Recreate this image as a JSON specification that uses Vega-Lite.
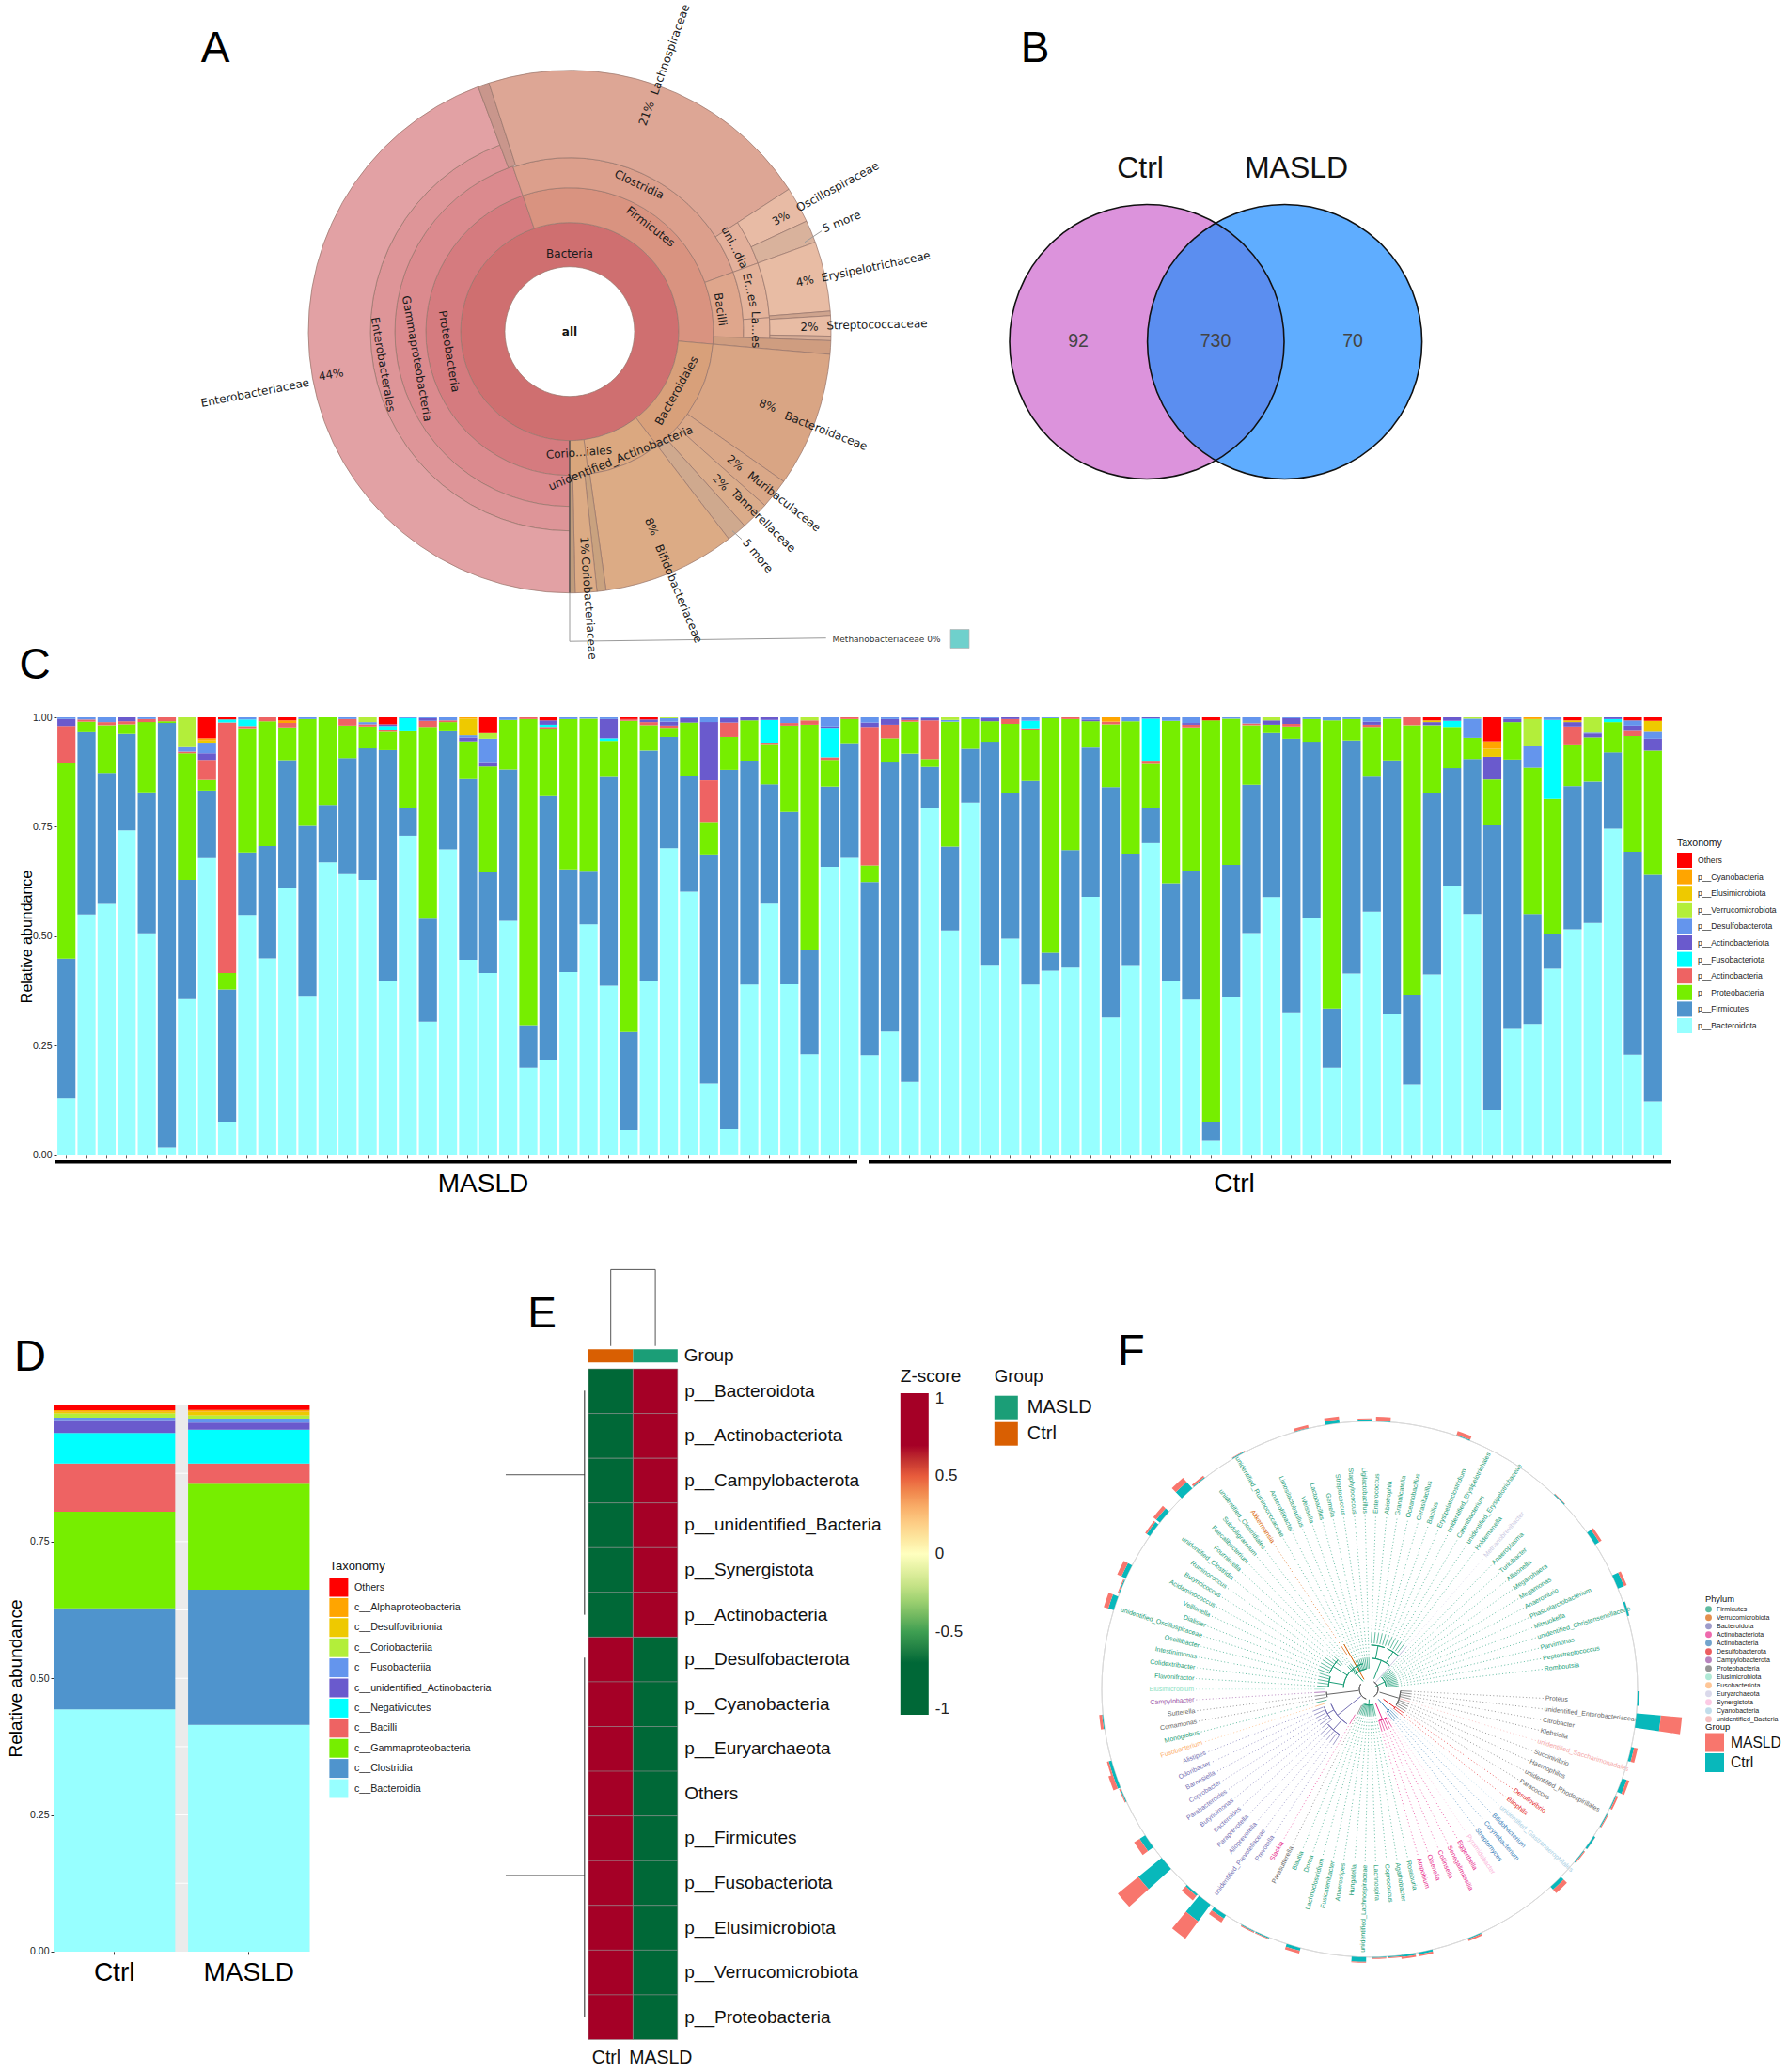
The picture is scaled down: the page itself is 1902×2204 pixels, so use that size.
{"$schema":"https://vega.github.io/schema/vega-lite/v6.json","padding":0,"background":"white","spacing":0,"bounds":"full","resolve":{"scale":{"color":"independent","fill":"independent","theta":"independent","radius":"independent"}},"config":{"font":"Liberation Sans","view":{"stroke":null}},
"vconcat":[
{"hconcat":[
{"width":1040,"height":757.5,"layer":[
{"data":{"values":[
{"n":"Bacteria","r0":69,"r1":116,"a0":0,"a1":360},
{"n":"Proteobacteria","r0":116,"r1":153,"a0":180,"a1":341},
{"n":"Firmicutes","r0":116,"r1":153,"a0":341,"a1":455},
{"n":"Bacteroidales","r0":116,"r1":153,"a0":95,"a1":142.5},
{"n":"unidentified_Actinobacteria","r0":116,"r1":153,"a0":142.5,"a1":172.5},
{"n":"Coriobacteriales","r0":116,"r1":153,"a0":172.5,"a1":180},
{"n":"Gammaproteobacteria","r0":153,"r1":186,"a0":180,"a1":341},
{"n":"Clostridia","r0":153,"r1":185,"a0":341,"a1":430},
{"n":"Bacilli","r0":153,"r1":185,"a0":70,"a1":94},
{"n":"Enterobacterales","r0":186,"r1":212,"a0":180,"a1":339.5},
{"n":"Enterobacteriaceae","r0":212,"r1":278,"a0":180,"a1":339.5},
{"n":"other1","r0":186,"r1":278,"a0":339.5,"a1":342},
{"n":"Lachnospiraceae","r0":185,"r1":278,"a0":342,"a1":417},
{"n":"unidentified_dia","r0":185,"r1":213,"a0":57,"a1":70},
{"n":"Oscillospiraceae","r0":213,"r1":278,"a0":57,"a1":65},
{"n":"other2","r0":213,"r1":278,"a0":65,"a1":70},
{"n":"Erysipelotrichales","r0":185,"r1":213,"a0":70,"a1":86},
{"n":"Erysipelotrichaceae","r0":213,"r1":278,"a0":70,"a1":85.5},
{"n":"Lactobacillales","r0":185,"r1":213,"a0":86,"a1":92},
{"n":"other2b","r0":213,"r1":278,"a0":85.5,"a1":86.5},
{"n":"Streptococcaceae","r0":213,"r1":278,"a0":86.5,"a1":91},
{"n":"other2c","r0":213,"r1":278,"a0":91,"a1":92},
{"n":"other3","r0":153,"r1":278,"a0":92,"a1":95},
{"n":"Bacteroidaceae","r0":153,"r1":278,"a0":95,"a1":125},
{"n":"Muribaculaceae","r0":153,"r1":278,"a0":125,"a1":131.7},
{"n":"Tannerellaceae","r0":153,"r1":278,"a0":131.7,"a1":138},
{"n":"other4","r0":153,"r1":278,"a0":138,"a1":142.5},
{"n":"Bifidobacteriaceae","r0":153,"r1":278,"a0":142.5,"a1":172},
{"n":"other5","r0":153,"r1":278,"a0":172,"a1":174},
{"n":"Coriobacteriaceae","r0":153,"r1":278,"a0":174,"a1":178.8},
{"n":"other6","r0":153,"r1":278,"a0":178.8,"a1":180}
]},
"mark":{"type":"arc","stroke":"#96746a","strokeWidth":0.7},
"encoding":{
"x":{"datum":0,"type":"quantitative","scale":{"domain":[-606,434]},"axis":null},
"y":{"datum":0,"type":"quantitative","scale":{"domain":[-404.8,352.7]},"axis":null},
"theta":{"field":"a0","type":"quantitative","stack":null,"scale":{"domain":[0,360],"range":[0,6.28319]}},
"theta2":{"field":"a1"},
"radius":{"field":"r0","type":"quantitative","scale":{"domain":[0,278],"range":[0,278]}},
"radius2":{"field":"r1"},
"color":{"field":"n","type":"nominal","legend":null,"scale":{
"domain":["Bacteria","Proteobacteria","Firmicutes","Bacteroidales","unidentified_Actinobacteria","Coriobacteriales","Gammaproteobacteria","Clostridia","Bacilli","Enterobacterales","Enterobacteriaceae","other1","Lachnospiraceae","unidentified_dia","Oscillospiraceae","other2","Erysipelotrichales","Erysipelotrichaceae","Lactobacillales","other2b","Streptococcaceae","other2c","other3","Bacteroidaceae","Muribaculaceae","Tannerellaceae","other4","Bifidobacteriaceae","other5","Coriobacteriaceae","other6"],
"range":["#cf6f70","#d57b7f","#d99380","#d8a07a","#dba880","#d9a67c","#db8a8e","#dc9f8c","#dfa68c","#de9598","#e2a1a4","#c9968c","#dda695","#e3b09b","#e8bba5","#d9b29c","#e4b39b","#e8bca4","#e4b39b","#cfa48e","#e8bca4","#d6ac96","#cf9d80","#d9a584","#daa888","#dbac8a","#cfa98e","#dcab85","#c9a27f","#dcab85","#c09c7c"]}}
}},
{"data":{"values":[
{"x":0,"y":-116,"x2":0,"y2":-278,"t":"in"}
]},"mark":{"type":"rule","color":"#4a4a4a","strokeWidth":1.2},
"encoding":{"x":{"field":"x","type":"quantitative","axis":null,"scale":{"domain":[-606,434]}},"y":{"field":"y","type":"quantitative","axis":null,"scale":{"domain":[-404.8,352.7]}},"x2":{"field":"x2"},"y2":{"field":"y2"}}},
{"data":{"values":[
{"x":0,"y":-278,"x2":0,"y2":-329.5},
{"x":0,"y":-329.5,"x2":272.7,"y2":-326},
{"x":250,"y":95,"x2":268,"y2":107},
{"x":173,"y":-212,"x2":183,"y2":-221}
]},"mark":{"type":"rule","color":"#9a9a9a","strokeWidth":1},
"encoding":{"x":{"field":"x","type":"quantitative","axis":null,"scale":{"domain":[-606,434]}},"y":{"field":"y","type":"quantitative","axis":null,"scale":{"domain":[-404.8,352.7]}},"x2":{"field":"x2"},"y2":{"field":"y2"}}},
{"data":{"values":[
{"t":"Bacteria","a":0,"r":82.6,"k":"tan"},
{"t":"Firmicutes","a":37.6,"r":141,"k":"tan"},
{"t":"Clostridia","a":25.3,"r":173,"k":"tan"},
{"t":"Bacilli","a":81.6,"r":162,"k":"tan"},
{"t":"uni...dia","a":63,"r":197,"k":"tan"},
{"t":"Er...es","a":77,"r":197,"k":"tan"},
{"t":"La...es","a":89.4,"r":198,"k":"tan"},
{"t":"Bacteroidales","a":118.9,"r":130,"k":"tan"},
{"t":"unidentified_Actinobacteria","a":158,"r":145,"k":"tan"},
{"t":"Corio...iales","a":175.6,"r":129,"k":"tan"},
{"t":"Proteobacteria","a":260.7,"r":130,"k":"tan"},
{"t":"Gammaproteobacteria","a":260,"r":165,"k":"tan"},
{"t":"Enterobacterales","a":260,"r":201.6,"k":"tan"},
{"t":"21%","a":19.4,"r":246,"k":"rad"},
{"t":"Lachnospiraceae","a":19.6,"r":318.5,"k":"rad"},
{"t":"3%","a":61.8,"r":255,"k":"rad"},
{"t":"Oscillospiraceae","a":61.6,"r":324,"k":"rad"},
{"t":"5 more","a":68,"r":312,"k":"rad"},
{"t":"4%","a":77.9,"r":256,"k":"rad"},
{"t":"Erysipelotrichaceae","a":78,"r":333,"k":"rad"},
{"t":"2%","a":88.9,"r":255,"k":"rad"},
{"t":"Streptococcaceae","a":88.7,"r":327,"k":"rad"},
{"t":"8%","a":110.5,"r":225,"k":"rad"},
{"t":"Bacteroidaceae","a":111.2,"r":292.5,"k":"rad"},
{"t":"2%","a":128.4,"r":225,"k":"rad"},
{"t":"Muribaculaceae","a":128.4,"r":291,"k":"rad"},
{"t":"2%","a":135,"r":227,"k":"rad"},
{"t":"Tannerellaceae","a":134.3,"r":288,"k":"rad"},
{"t":"5 more","a":140,"r":311.5,"k":"rad"},
{"t":"8%","a":157.2,"r":225,"k":"rad"},
{"t":"Bifidobacteriaceae","a":157.4,"r":302,"k":"rad"},
{"t":"1%","a":176,"r":228,"k":"rad"},
{"t":"Coriobacteriaceae","a":176,"r":295,"k":"rad"},
{"t":"44%","a":259.8,"r":258,"k":"rad"},
{"t":"Enterobacteriaceae","a":259,"r":341,"k":"rad"}
]},
"transform":[{"calculate":"datum.k=='rad' ? (datum.a<180 ? datum.a-90 : datum.a+90-360) : (datum.a>90 && datum.a<270 ? datum.a-180 : datum.a)","as":"rot"}],
"mark":{"type":"text","font":"DejaVu Sans","fontSize":12,"align":"center","baseline":"middle","color":"#1a1a1a"},
"encoding":{
"x":{"datum":0,"type":"quantitative","scale":{"domain":[-606,434]},"axis":null},
"y":{"datum":0,"type":"quantitative","scale":{"domain":[-404.8,352.7]},"axis":null},
"theta":{"field":"a","type":"quantitative","stack":null,"scale":{"domain":[0,360],"range":[0,6.28319]}},
"radius":{"field":"r","type":"quantitative","scale":{"domain":[0,278],"range":[0,278]}},
"angle":{"field":"rot","type":"quantitative","scale":null},
"text":{"field":"t"}}},
{"data":{"values":[{"x":337,"y":-326.8,"t":"Methanobacteriaceae  0%"}]},
"mark":{"type":"text","font":"DejaVu Sans","fontSize":9,"align":"center","baseline":"middle","color":"#333"},
"encoding":{"x":{"field":"x","type":"quantitative","scale":{"domain":[-606,434]},"axis":null},"y":{"field":"y","type":"quantitative","scale":{"domain":[-404.8,352.7]},"axis":null},"text":{"field":"t"}}},
{"data":{"values":[{"x":415,"y":-326.8}]},
"mark":{"type":"point","shape":"square","filled":true,"size":400,"color":"#6fd0cc","stroke":"#b5b5b5","strokeWidth":0.7,"opacity":1},
"encoding":{"x":{"field":"x","type":"quantitative","scale":{"domain":[-606,434]},"axis":null},"y":{"field":"y","type":"quantitative","scale":{"domain":[-404.8,352.7]},"axis":null}}},
{"data":{"values":[{"x":0,"y":0,"t":"all"}]},
"mark":{"type":"text","font":"DejaVu Sans","fontSize":12,"fontWeight":"bold","align":"center","baseline":"middle","color":"#111"},
"encoding":{"x":{"field":"x","type":"quantitative","scale":{"domain":[-606,434]},"axis":null},"y":{"field":"y","type":"quantitative","scale":{"domain":[-404.8,352.7]},"axis":null},"text":{"field":"t"}}},
{"data":{"values":[{"x":-377,"y":286.7,"t":"A"},{"x":-569,"y":-369,"t":"C"}]},
"mark":{"type":"text","fontSize":46,"align":"center","baseline":"alphabetic","color":"#000"},
"encoding":{"x":{"field":"x","type":"quantitative","scale":{"domain":[-606,434]},"axis":null},"y":{"field":"y","type":"quantitative","scale":{"domain":[-404.8,352.7]},"axis":null},"text":{"field":"t"}}}
]},
{"width":862,"height":757.5,"layer":[
{"data":{"values":[{"n":"Ctrl","x":181,"y":363.5},{"n":"MASLD","x":327.6,"y":363.5}]},
"mark":{"type":"point","filled":true,"opacity":1,"size":85264},
"encoding":{"x":{"field":"x","type":"quantitative","scale":{"domain":[1,863]},"axis":null},"y":{"field":"y","type":"quantitative","scale":{"domain":[757.5,0]},"axis":null},
"color":{"field":"n","type":"nominal","legend":null,"scale":{"domain":["Ctrl","MASLD"],"range":["#dc93dc","#5fadff"]}}}},
{"data":{"values":[
{"x":181.4,"y":363.5,"y2":363.5},{"x":184.4,"y":337,"y2":390},{"x":189.4,"y":317,"y2":410},{"x":194.4,"y":304.5,"y2":422.5},{"x":204.4,"y":285.2,"y2":441.8},{"x":214.4,"y":271.3,"y2":455.7},{"x":224.4,"y":260.2,"y2":466.8},{"x":234.4,"y":251.2,"y2":475.8},{"x":244.4,"y":243.7,"y2":483.3},{"x":254.4,"y":237.1,"y2":489.9},{"x":264.4,"y":243.7,"y2":483.3},{"x":274.4,"y":251.2,"y2":475.8},{"x":284.4,"y":260.2,"y2":466.8},{"x":294.4,"y":271.3,"y2":455.7},{"x":304.4,"y":285.2,"y2":441.8},{"x":314.4,"y":304.5,"y2":422.5},{"x":319.4,"y":317,"y2":410},{"x":324.4,"y":337,"y2":390},{"x":327.4,"y":363.5,"y2":363.5}
]},"mark":{"type":"area","color":"#5b8ef0","interpolate":"monotone","orient":"vertical"},
"encoding":{"x":{"field":"x","type":"quantitative","scale":{"domain":[1,863]},"axis":null},"y":{"field":"y","type":"quantitative","scale":{"domain":[757.5,0]},"axis":null},"y2":{"field":"y2"}}},
{"data":{"values":[{"n":"Ctrl","x":181,"y":363.5},{"n":"MASLD","x":327.6,"y":363.5}]},
"mark":{"type":"point","filled":false,"opacity":1,"size":85264,"stroke":"#111","strokeWidth":1.6},
"encoding":{"x":{"field":"x","type":"quantitative","scale":{"domain":[1,863]},"axis":null},"y":{"field":"y","type":"quantitative","scale":{"domain":[757.5,0]},"axis":null}}},
{"data":{"values":[{"x":108,"y":363,"t":"92"},{"x":254,"y":363,"t":"730"},{"x":400,"y":363,"t":"70"}]},
"mark":{"type":"text","fontSize":19.5,"align":"center","baseline":"middle","color":"#444"},
"encoding":{"x":{"field":"x","type":"quantitative","scale":{"domain":[1,863]},"axis":null},"y":{"field":"y","type":"quantitative","scale":{"domain":[757.5,0]},"axis":null},"text":{"field":"t"}}},
{"data":{"values":[{"x":174,"y":179,"t":"Ctrl"},{"x":340,"y":179,"t":"MASLD"}]},
"mark":{"type":"text","fontSize":32,"align":"center","baseline":"middle","color":"#111"},
"encoding":{"x":{"field":"x","type":"quantitative","scale":{"domain":[1,863]},"axis":null},"y":{"field":"y","type":"quantitative","scale":{"domain":[757.5,0]},"axis":null},"text":{"field":"t"}}},
{"data":{"values":[{"x":62,"y":66,"t":"B"}]},
"mark":{"type":"text","fontSize":46,"align":"center","baseline":"alphabetic","color":"#000"},
"encoding":{"x":{"field":"x","type":"quantitative","scale":{"domain":[1,863]},"axis":null},"y":{"field":"y","type":"quantitative","scale":{"domain":[757.5,0]},"axis":null},"text":{"field":"t"}}}
]}
],"spacing":0,"bounds":"flush","resolve":{"scale":{"color":"independent","fill":"independent","theta":"independent","radius":"independent"}}},

{"hconcat":[
{"width":60,"height":585.8,"data":{"values":[]},"mark":"point","encoding":{}},
{"width":1709,"height":465.9,"resolve":{"scale":{"x":"independent","y":"independent"}},"layer":[
{"data":{"values":[
{"s":"M1","B":0.130,"F":0.319,"P":0.446,"A":0.085,"T":0.016,"D":0.004},
{"s":"M2","B":0.550,"F":0.416,"P":0.024,"A":0.005,"D":0.005},
{"s":"M3","B":0.574,"F":0.299,"P":0.109,"A":0.007,"D":0.011},
{"s":"M4","B":0.742,"F":0.220,"P":0.022,"A":0.007,"T":0.009},
{"s":"M5","B":0.507,"F":0.322,"P":0.160,"A":0.007,"D":0.004},
{"s":"M6","B":0.018,"F":0.968,"P":0.004,"A":0.009},
{"s":"M7","B":0.355,"F":0.271,"P":0.288,"A":0.004,"D":0.010,"V":0.068},
{"s":"M8","B":0.678,"F":0.154,"P":0.024,"A":0.046,"T":0.015,"D":0.024,"E":0.005,"C":0.005,"O":0.048},
{"s":"M9","B":0.076,"F":0.302,"P":0.038,"A":0.571,"U":0.007,"O":0.005},
{"s":"M10","B":0.548,"F":0.143,"P":0.283,"A":0.005,"U":0.015,"D":0.005},
{"s":"M11","B":0.449,"F":0.256,"P":0.285,"A":0.009},
{"s":"M12","B":0.610,"F":0.293,"P":0.075,"A":0.010,"C":0.006,"O":0.007},
{"s":"M13","B":0.364,"F":0.388,"P":0.244,"D":0.004},
{"s":"M14","B":0.668,"F":0.131,"P":0.200},
{"s":"M15","B":0.642,"F":0.265,"P":0.074,"A":0.015,"D":0.004},
{"s":"M16","B":0.628,"F":0.300,"P":0.050,"A":0.005,"D":0.005,"V":0.011},
{"s":"M17","B":0.398,"F":0.527,"P":0.042,"A":0.003,"U":0.010,"T":0.004,"O":0.016},
{"s":"M18","B":0.729,"F":0.064,"P":0.174,"U":0.030,"D":0.002},
{"s":"M19","B":0.305,"F":0.235,"P":0.438,"A":0.014,"T":0.006,"D":0.002},
{"s":"M20","B":0.699,"F":0.270,"P":0.021,"A":0.004,"D":0.007},
{"s":"M21","B":0.446,"F":0.412,"P":0.086,"T":0.009,"D":0.005,"E":0.038,"C":0.003},
{"s":"M22","B":0.416,"F":0.229,"P":0.242,"T":0.008,"D":0.055,"V":0.013,"O":0.036},
{"s":"M23","B":0.534,"F":0.345,"P":0.113,"D":0.006},
{"s":"M24","B":0.200,"F":0.097,"P":0.699,"A":0.004},
{"s":"M25","B":0.217,"F":0.603,"P":0.154,"A":0.004,"U":0.005,"T":0.010,"O":0.007},
{"s":"M26","B":0.418,"F":0.234,"P":0.343,"D":0.004},
{"s":"M27","B":0.528,"F":0.120,"P":0.350,"D":0.003},
{"s":"M28","B":0.387,"F":0.478,"P":0.080,"U":0.006,"T":0.044,"D":0.004},
{"s":"M29","B":0.058,"F":0.224,"P":0.711,"A":0.004,"O":0.004},
{"s":"M30","B":0.398,"F":0.526,"P":0.058,"A":0.007,"T":0.006,"O":0.005},
{"s":"M31","B":0.701,"F":0.254,"P":0.021,"A":0.005,"T":0.009,"D":0.008,"V":0.002},
{"s":"M32","B":0.602,"F":0.265,"P":0.121,"T":0.010,"D":0.002},
{"s":"M33","B":0.164,"F":0.523,"P":0.074,"A":0.095,"T":0.133,"D":0.011},
{"s":"M34","B":0.060,"F":0.820,"P":0.075,"A":0.033,"T":0.010,"D":0.002},
{"s":"M35","B":0.389,"F":0.510,"P":0.092,"T":0.007},
{"s":"M36","B":0.574,"F":0.272,"P":0.092,"A":0.003,"U":0.052,"T":0.006},
{"s":"M37","B":0.390,"F":0.393,"P":0.197,"A":0.006,"D":0.013},
{"s":"M38","B":0.231,"F":0.239,"P":0.513,"A":0.010,"V":0.007},
{"s":"M39","B":0.658,"F":0.183,"P":0.061,"A":0.006,"U":0.067,"T":0.003,"D":0.021},
{"s":"M40","B":0.678,"F":0.261,"P":0.055,"A":0.004},
{"s":"C1","B":0.229,"F":0.395,"P":0.038,"A":0.316,"T":0.010,"D":0.012},
{"s":"C2","B":0.282,"F":0.613,"P":0.055,"A":0.031,"T":0.013,"D":0.004},
{"s":"C3","B":0.168,"F":0.750,"P":0.073,"A":0.004,"T":0.004,"D":0.002},
{"s":"C4","B":0.791,"F":0.095,"P":0.018,"A":0.088,"T":0.005,"D":0.002},
{"s":"C5","B":0.513,"F":0.191,"P":0.285,"D":0.004,"V":0.006},
{"s":"C6","B":0.805,"F":0.123,"P":0.068,"D":0.004},
{"s":"C7","B":0.433,"F":0.511,"P":0.047,"T":0.007,"D":0.002},
{"s":"C8","B":0.494,"F":0.333,"P":0.157,"A":0.011,"T":0.004},
{"s":"C9","B":0.389,"F":0.464,"P":0.116,"A":0.004,"U":0.017,"D":0.008},
{"s":"C10","B":0.421,"F":0.041,"P":0.535,"D":0.002},
{"s":"C11","B":0.428,"F":0.268,"P":0.299,"A":0.004},
{"s":"C12","B":0.590,"F":0.341,"P":0.060,"T":0.004,"D":0.005},
{"s":"C13","B":0.314,"F":0.525,"P":0.143,"A":0.006,"C":0.010},
{"s":"C14","B":0.432,"F":0.256,"P":0.302,"D":0.009},
{"s":"C15","B":0.712,"F":0.079,"P":0.102,"A":0.005,"U":0.098,"T":0.003},
{"s":"C16","B":0.396,"F":0.224,"P":0.370,"D":0.008},
{"s":"C17","B":0.355,"F":0.294,"P":0.327,"A":0.006,"T":0.004,"D":0.013},
{"s":"C18","B":0.033,"F":0.044,"P":0.916,"O":0.007},
{"s":"C19","B":0.361,"F":0.302,"P":0.334,"D":0.003},
{"s":"C20","B":0.507,"F":0.338,"P":0.136,"A":0.004,"D":0.014},
{"s":"C21","B":0.590,"F":0.375,"P":0.019,"T":0.010,"V":0.007},
{"s":"C22","B":0.324,"F":0.626,"P":0.028,"A":0.006,"T":0.013,"D":0.002},
{"s":"C23","B":0.542,"F":0.401,"P":0.052,"D":0.004},
{"s":"C24","B":0.200,"F":0.135,"P":0.657,"D":0.007},
{"s":"C25","B":0.415,"F":0.532,"P":0.049,"D":0.004},
{"s":"C26","B":0.557,"F":0.310,"P":0.112,"A":0.005,"T":0.007,"D":0.010},
{"s":"C27","B":0.322,"F":0.580,"P":0.095,"D":0.003},
{"s":"C28","B":0.162,"F":0.205,"P":0.615,"A":0.018},
{"s":"C29","B":0.413,"F":0.413,"P":0.156,"T":0.007,"E":0.004,"O":0.007},
{"s":"C30","B":0.615,"F":0.268,"P":0.094,"U":0.014,"T":0.008},
{"s":"C31","B":0.551,"F":0.354,"P":0.048,"D":0.044,"V":0.003},
{"s":"C32","B":0.103,"F":0.650,"P":0.105,"T":0.052,"E":0.018,"C":0.017,"O":0.055},
{"s":"C33","B":0.288,"F":0.614,"P":0.085,"T":0.007,"D":0.004},
{"s":"C34","B":0.300,"F":0.251,"P":0.334,"D":0.050,"V":0.061,"C":0.004},
{"s":"C35","B":0.426,"F":0.080,"P":0.308,"U":0.180,"D":0.006},
{"s":"C36","B":0.516,"F":0.327,"P":0.095,"A":0.041,"T":0.010,"E":0.004,"O":0.007},
{"s":"C37","B":0.531,"F":0.323,"P":0.101,"T":0.009,"D":0.002,"V":0.035},
{"s":"C38","B":0.744,"F":0.174,"P":0.069,"U":0.007,"T":0.004},
{"s":"C39","B":0.230,"F":0.464,"P":0.264,"A":0.012,"T":0.012,"D":0.012,"O":0.007},
{"s":"C40","B":0.123,"F":0.517,"P":0.283,"T":0.027,"D":0.016,"E":0.025,"O":0.008}
]},
"transform":[{"fold":["B","F","P","A","U","T","D","V","E","C","O"],"as":["k","v"]},{"filter":"datum.v>0"},
{"calculate":"indexof(['B','F','P','A','U','T','D','V','E','C','O'],datum.k)","as":"ord"},
{"calculate":"{B:'p__Bacteroidota',F:'p__Firmicutes',P:'p__Proteobacteria',A:'p__Actinobacteria',U:'p__Fusobacteriota',T:'p__Actinobacteriota',D:'p__Desulfobacterota',V:'p__Verrucomicrobiota',E:'p__Elusimicrobiota',C:'p__Cyanobacteria',O:'Others'}[datum.k]","as":"tax"}],
"mark":{"type":"bar"},
"encoding":{
"x":{"field":"s","type":"nominal","sort":null,"scale":{"paddingInner":0.1,"paddingOuter":0.05},"axis":{"title":null,"labels":false,"domain":false,"ticks":true,"tickSize":3,"tickColor":"#333","tickWidth":0.8}},
"y":{"field":"v","type":"quantitative","stack":"normalize","scale":{"domain":[0,1]},"axis":{"title":"Relative abundance","titleFontSize":16,"titleFontWeight":"normal","titleColor":"#000","titlePadding":-2,"values":[0,0.25,0.5,0.75,1],"labelExpr":"format(datum.value,'.2f')","labelFontSize":10.5,"labelColor":"#222","domain":false,"grid":false,"tickSize":3,"tickColor":"#333"}},
"order":{"field":"ord","type":"quantitative"},
"color":{"field":"tax","type":"nominal","scale":{"domain":["Others","p__Cyanobacteria","p__Elusimicrobiota","p__Verrucomicrobiota","p__Desulfobacterota","p__Actinobacteriota","p__Fusobacteriota","p__Actinobacteria","p__Proteobacteria","p__Firmicutes","p__Bacteroidota"],"range":["#ff0000","#ffa500","#eec900","#b3ee3a","#6495ed","#6a5acd","#00ffff","#ee6363","#76ee00","#4f94cd","#97ffff"]},
"legend":{"orient":"none","legendX":1724,"legendY":128.5,"title":"Taxonomy","titleFontSize":10.5,"titleFontWeight":"normal","titleColor":"#111","titlePadding":5,"labelFontSize":8.6,"labelColor":"#222","symbolType":"square","symbolSize":256,"symbolStrokeWidth":0,"rowPadding":1.6,"labelOffset":6}}
}},
{"data":{"values":[{"x":-1.2,"x2":852,"y":-0.0148},{"x":864,"x2":1718,"y":-0.0148}]},
"mark":{"type":"rule","color":"#000","strokeWidth":3.5},
"encoding":{"x":{"field":"x","type":"quantitative","scale":{"domain":[0,1709]},"axis":null},"x2":{"field":"x2"},"y":{"field":"y","type":"quantitative","scale":{"domain":[0,1]},"axis":null}}},
{"data":{"values":[{"x":454,"y":-0.066,"t":"MASLD"},{"x":1253,"y":-0.066,"t":"Ctrl"}]},
"mark":{"type":"text","fontSize":28,"align":"center","baseline":"middle","color":"#000"},
"encoding":{"x":{"field":"x","type":"quantitative","scale":{"domain":[0,1709]},"axis":null},"y":{"field":"y","type":"quantitative","scale":{"domain":[0,1]},"axis":null},"text":{"field":"t"}}}
]}
],"spacing":0,"bounds":"flush","resolve":{"scale":{"color":"independent","fill":"independent","theta":"independent","radius":"independent"}}},

{"hconcat":[
{"width":56.6,"height":1,"data":{"values":[]},"mark":"point","encoding":{}},
{"width":272.4,"height":619.9,"resolve":{"scale":{"x":"independent","y":"independent"}},
"title":{"text":"D","fontSize":47,"fontWeight":"normal","anchor":"start","frame":"group","dx":-42,"dy":16,"color":"#000"},
"layer":[
{"data":{"values":[{"x":0,"x2":1,"y":0,"y2":1}]},"mark":{"type":"rect","color":"#ebebeb"},
"encoding":{"x":{"field":"x","type":"quantitative","scale":{"domain":[0,1]},"axis":null},"x2":{"field":"x2"},"y":{"field":"y","type":"quantitative","scale":{"domain":[0,1.0663]},"axis":null},"y2":{"field":"y2"}}},
{"data":{"values":[{"y":0.125},{"y":0.25},{"y":0.375},{"y":0.5},{"y":0.625},{"y":0.75},{"y":0.875}]},"mark":{"type":"rule","color":"#fff","strokeWidth":1},
"encoding":{"y":{"field":"y","type":"quantitative","scale":{"domain":[0,1.0663]},"axis":null}}},
{"data":{"values":[
{"g":"Ctrl","t":"c__Bacteroidia","v":0.443},{"g":"Ctrl","t":"c__Clostridia","v":0.185},{"g":"Ctrl","t":"c__Gammaproteobacteria","v":0.177},{"g":"Ctrl","t":"c__Bacilli","v":0.088},{"g":"Ctrl","t":"c__Negativicutes","v":0.056},{"g":"Ctrl","t":"c__unidentified_Actinobacteria","v":0.0235},{"g":"Ctrl","t":"c__Fusobacteriia","v":0.0045},{"g":"Ctrl","t":"c__Coriobacteriia","v":0.0075},{"g":"Ctrl","t":"c__Desulfovibrionia","v":0.003},{"g":"Ctrl","t":"c__Alphaproteobacteria","v":0.003},{"g":"Ctrl","t":"Others","v":0.0095},
{"g":"MASLD","t":"c__Bacteroidia","v":0.415},{"g":"MASLD","t":"c__Clostridia","v":0.247},{"g":"MASLD","t":"c__Gammaproteobacteria","v":0.194},{"g":"MASLD","t":"c__Bacilli","v":0.037},{"g":"MASLD","t":"c__Negativicutes","v":0.062},{"g":"MASLD","t":"c__unidentified_Actinobacteria","v":0.013},{"g":"MASLD","t":"c__Fusobacteriia","v":0.007},{"g":"MASLD","t":"c__Coriobacteriia","v":0.006},{"g":"MASLD","t":"c__Desulfovibrionia","v":0.007},{"g":"MASLD","t":"c__Alphaproteobacteria","v":0.003},{"g":"MASLD","t":"Others","v":0.009}
]},
"transform":[{"calculate":"indexof(['c__Bacteroidia','c__Clostridia','c__Gammaproteobacteria','c__Bacilli','c__Negativicutes','c__unidentified_Actinobacteria','c__Fusobacteriia','c__Coriobacteriia','c__Desulfovibrionia','c__Alphaproteobacteria','Others'],datum.t)","as":"ord"}],
"mark":{"type":"bar"},
"encoding":{
"x":{"field":"g","type":"nominal","sort":null,"scale":{"domain":["Ctrl","MASLD"],"paddingInner":0.096,"paddingOuter":0},"axis":{"title":null,"labelAngle":0,"labelFontSize":28,"labelColor":"#000","domain":false,"tickSize":3,"tickColor":"#333","labelPadding":6}},
"y":{"field":"v","type":"quantitative","stack":"zero","scale":{"domain":[0,1.0663]},"axis":{"title":"Relative abundance","titleFontSize":19,"titleFontWeight":"normal","titleColor":"#000","titlePadding":5,"titleY":329,"values":[0,0.25,0.5,0.75],"format":".2f","labelFontSize":10.5,"labelColor":"#222","domain":false,"grid":false,"tickSize":3,"tickColor":"#333"}},
"order":{"field":"ord","type":"quantitative"},
"color":{"field":"t","type":"nominal","scale":{"domain":["Others","c__Alphaproteobacteria","c__Desulfovibrionia","c__Coriobacteriia","c__Fusobacteriia","c__unidentified_Actinobacteria","c__Negativicutes","c__Bacilli","c__Gammaproteobacteria","c__Clostridia","c__Bacteroidia"],"range":["#ff0000","#ffa500","#eec900","#b3ee3a","#6495ed","#6a5acd","#00ffff","#ee6363","#76ee00","#4f94cd","#97ffff"]},
"legend":{"orient":"none","legendX":293.4,"legendY":203.5,"title":"Taxonomy","titleFontSize":13,"titleFontWeight":"normal","titleColor":"#111","titlePadding":6,"labelFontSize":10.7,"labelColor":"#222","symbolType":"square","symbolSize":400,"symbolStrokeWidth":0,"rowPadding":1.4,"labelOffset":6.5,"labelLimit":300}}
}}
]},
{"width":295.8,"height":1,"data":{"values":[]},"mark":"point","encoding":{}},
{"width":94.8,"height":713.5,"resolve":{"scale":{"x":"independent","y":"independent"}},"layer":[
{"data":{"values":[
{"g":"Ctrl","t":"p__Bacteroidota","z":-1},{"g":"MASLD","t":"p__Bacteroidota","z":1},
{"g":"Ctrl","t":"p__Actinobacteriota","z":-1},{"g":"MASLD","t":"p__Actinobacteriota","z":1},
{"g":"Ctrl","t":"p__Campylobacterota","z":-1},{"g":"MASLD","t":"p__Campylobacterota","z":1},
{"g":"Ctrl","t":"p__unidentified_Bacteria","z":-1},{"g":"MASLD","t":"p__unidentified_Bacteria","z":1},
{"g":"Ctrl","t":"p__Synergistota","z":-1},{"g":"MASLD","t":"p__Synergistota","z":1},
{"g":"Ctrl","t":"p__Actinobacteria","z":-1},{"g":"MASLD","t":"p__Actinobacteria","z":1},
{"g":"Ctrl","t":"p__Desulfobacterota","z":1},{"g":"MASLD","t":"p__Desulfobacterota","z":-1},
{"g":"Ctrl","t":"p__Cyanobacteria","z":1},{"g":"MASLD","t":"p__Cyanobacteria","z":-1},
{"g":"Ctrl","t":"p__Euryarchaeota","z":1},{"g":"MASLD","t":"p__Euryarchaeota","z":-1},
{"g":"Ctrl","t":"Others","z":1},{"g":"MASLD","t":"Others","z":-1},
{"g":"Ctrl","t":"p__Firmicutes","z":1},{"g":"MASLD","t":"p__Firmicutes","z":-1},
{"g":"Ctrl","t":"p__Fusobacteriota","z":1},{"g":"MASLD","t":"p__Fusobacteriota","z":-1},
{"g":"Ctrl","t":"p__Elusimicrobiota","z":1},{"g":"MASLD","t":"p__Elusimicrobiota","z":-1},
{"g":"Ctrl","t":"p__Verrucomicrobiota","z":1},{"g":"MASLD","t":"p__Verrucomicrobiota","z":-1},
{"g":"Ctrl","t":"p__Proteobacteria","z":1},{"g":"MASLD","t":"p__Proteobacteria","z":-1}
]},
"mark":{"type":"rect","stroke":"#8f8f8f","strokeWidth":0.5},
"encoding":{
"x":{"field":"g","type":"nominal","sort":null,"scale":{"domain":["Ctrl","MASLD"],"padding":0},"axis":null},
"y":{"field":"t","type":"nominal","sort":null,"scale":{"padding":0},"axis":{"orient":"right","title":null,"labelFontSize":19,"labelColor":"#111","labelPadding":7,"ticks":false,"domain":false,"labelLimit":400}},
"fill":{"field":"z","type":"quantitative","scale":{"domain":[-1.035,-0.7,-0.5,-0.25,0,0.25,0.5,0.68,1.035],"range":["#006837","#006837","#3f9f52","#b5dd7a","#ffffbf","#fdc07a","#e85c3c","#a50026","#a50026"]},
"legend":{"orient":"none","legendX":331.8,"legendY":-1,"title":"Z-score","titleFontSize":19,"titleFontWeight":"normal","titleColor":"#111","titlePadding":8,"gradientLength":342,"gradientThickness":30,"gradientStrokeWidth":0,"values":[-1,-0.5,0,0.5,1],"labelExpr":"''+datum.value","labelFontSize":17,"labelColor":"#222","labelOffset":7}}
}},
{"data":{"values":[{"g":"Ctrl","x":0,"x2":1,"y":-0.437,"y2":-0.14},{"g":"MASLD","x":1,"x2":2,"y":-0.437,"y2":-0.14}]},
"mark":{"type":"rect"},
"encoding":{"x":{"field":"x","type":"quantitative","scale":{"domain":[0,2]},"axis":null},"x2":{"field":"x2"},"y":{"field":"y","type":"quantitative","scale":{"domain":[15,0]},"axis":null},"y2":{"field":"y2"},
"color":{"field":"g","type":"nominal","scale":{"domain":["MASLD","Ctrl"],"range":["#1b9e77","#d95f02"]},
"legend":{"orient":"none","legendX":431.8,"legendY":-1,"title":"Group","titleFontSize":18.7,"titleFontWeight":"normal","titleColor":"#111","titlePadding":11,"labelFontSize":20,"labelColor":"#111","symbolType":"square","symbolSize":625,"symbolStrokeWidth":0,"rowPadding":3,"labelOffset":10}}}},
{"data":{"values":[
{"x":0.5,"x2":0.5,"y":-0.51,"y2":-2.22},{"x":1.5,"x2":1.5,"y":-0.51,"y2":-2.22},{"x":0.5,"x2":1.5,"y":-2.22,"y2":-2.22},
{"x":-1.857,"x2":-0.088,"y":2.37,"y2":2.37},{"x":-1.857,"x2":-0.088,"y":11.33,"y2":11.33}
]},"mark":{"type":"rule","color":"#555","strokeWidth":1},
"encoding":{"x":{"field":"x","type":"quantitative","scale":{"domain":[0,2]},"axis":null},"x2":{"field":"x2"},"y":{"field":"y","type":"quantitative","scale":{"domain":[15,0]},"axis":null},"y2":{"field":"y2"}}},
{"data":{"values":[{"x":-0.088,"x2":-0.088,"y":0.49,"y2":5.5},{"x":-0.088,"x2":-0.088,"y":6.46,"y2":14.5}]},"mark":{"type":"rule","color":"#222","strokeWidth":1},
"encoding":{"x":{"field":"x","type":"quantitative","scale":{"domain":[0,2]},"axis":null},"x2":{"field":"x2"},"y":{"field":"y","type":"quantitative","scale":{"domain":[15,0]},"axis":null},"y2":{"field":"y2"}}},
{"data":{"values":[
{"x":7.0,"x2":7.116,"y":0.673},{"x":7.517,"x2":7.633,"y":0.673},{"x":7.0,"x2":7.116,"y":2.405},{"x":7.517,"x2":7.633,"y":2.405},{"x":7.0,"x2":7.116,"y":4.15},{"x":7.517,"x2":7.633,"y":4.15},{"x":7.0,"x2":7.116,"y":5.88},{"x":7.517,"x2":7.633,"y":5.88},{"x":7.0,"x2":7.116,"y":7.615},{"x":7.517,"x2":7.633,"y":7.615}
]},"mark":{"type":"rule","color":"#fff","strokeWidth":1.3,"zindex":1},
"encoding":{"x":{"field":"x","type":"quantitative","scale":{"domain":[0,2]},"axis":null},"x2":{"field":"x2"},"y":{"field":"y","type":"quantitative","scale":{"domain":[15,0]},"axis":null}}},
{"data":{"values":[{"x":2.148,"y":-0.288,"t":"Group"}]},"mark":{"type":"text","fontSize":19,"align":"left","baseline":"middle","color":"#111"},
"encoding":{"x":{"field":"x","type":"quantitative","scale":{"domain":[0,2]},"axis":null},"y":{"field":"y","type":"quantitative","scale":{"domain":[15,0]},"axis":null},"text":{"field":"t"}}},
{"data":{"values":[{"x":0.4,"y":15.42,"t":"Ctrl"},{"x":1.62,"y":15.42,"t":"MASLD"}]},"mark":{"type":"text","fontSize":19.5,"align":"center","baseline":"middle","color":"#111"},
"encoding":{"x":{"field":"x","type":"quantitative","scale":{"domain":[0,2]},"axis":null},"y":{"field":"y","type":"quantitative","scale":{"domain":[15,0]},"axis":null},"text":{"field":"t"}}},
{"data":{"values":[{"x":-1.04,"y":-0.927,"t":"E"}]},"mark":{"type":"text","fontSize":46,"align":"center","baseline":"alphabetic","color":"#000"},
"encoding":{"x":{"field":"x","type":"quantitative","scale":{"domain":[0,2]},"axis":null},"y":{"field":"y","type":"quantitative","scale":{"domain":[15,0]},"axis":null},"text":{"field":"t"}}}
]},
{"width":420,"height":1,"data":{"values":[]},"mark":"point","encoding":{}},
{"width":662,"height":700,
"layer":[
{"data":{"name":"taxa"},
"mark":{"type":"point","filled":true,"size":0},
"encoding":{"x":{"datum":0,"type":"quantitative","scale":{"domain":[-316,346]},"axis":null},"y":{"datum":0,"type":"quantitative","scale":{"domain":[-359.2,340.8]},"axis":null},
"color":{"field":"p","type":"nominal","scale":{"domain":["Firmicutes","Verrucomicrobiota","Bacteroidota","Actinobacteriota","Actinobacteria","Desulfobacterota","Campylobacterota","Proteobacteria","Elusimicrobiota","Fusobacteriota","Euryarchaeota","Synergistota","Cyanobacteria","unidentified_Bacteria"],"range":["#1b9e77","#d95f02","#7570b3","#e7298a","#377eb8","#e41a1c","#984ea3","#666666","#8ddfc4","#fdae6b","#cbc9e2","#fbb4d9","#a6cee3","#f4a6a6"]},
"legend":{"orient":"none","legendX":673,"legendY":241,"title":"Phylum","titleFontSize":9.3,"titleFontWeight":"normal","titleColor":"#111","titlePadding":2,"labelFontSize":7,"labelColor":"#222","symbolType":"circle","symbolSize":48,"symbolStrokeWidth":0,"rowPadding":1,"labelOffset":5}}}},
{"data":{"name":"taxa"},
"transform":[{"calculate":"datum.a*PI/180","as":"t"},{"calculate":"datum.r0*sin(datum.t)","as":"x"},{"calculate":"datum.r0*cos(datum.t)","as":"y"},{"calculate":"185*sin(datum.t)","as":"x2"},{"calculate":"185*cos(datum.t)","as":"y2"}],
"mark":{"type":"rule","strokeDash":[1,2.5],"strokeWidth":0.9,"opacity":0.75},
"encoding":{"x":{"field":"x","type":"quantitative","scale":{"domain":[-316,346]},"axis":null},"x2":{"field":"x2"},"y":{"field":"y","type":"quantitative","scale":{"domain":[-359.2,340.8]},"axis":null},"y2":{"field":"y2"},
"color":{"field":"p","type":"nominal","legend":null}}},
{"data":{"name":"taxa"},
"transform":[{"calculate":"datum.a*PI/180","as":"t"},{"calculate":"(datum.r0-11)*sin(datum.t)","as":"x"},{"calculate":"(datum.r0-11)*cos(datum.t)","as":"y"},{"calculate":"datum.r0*sin(datum.t)","as":"x2"},{"calculate":"datum.r0*cos(datum.t)","as":"y2"}],
"mark":{"type":"rule","strokeWidth":0.7},
"encoding":{"x":{"field":"x","type":"quantitative","scale":{"domain":[-316,346]},"axis":null},"x2":{"field":"x2"},"y":{"field":"y","type":"quantitative","scale":{"domain":[-359.2,340.8]},"axis":null},"y2":{"field":"y2"},
"color":{"field":"p","type":"nominal","legend":null}}},
{"data":{"values":[
{"a":107,"r0":33,"r1":11,"p":"Proteobacteria"},{"a":126,"r0":33,"r1":18,"p":"Desulfobacterota"},{"a":139,"r0":30,"r1":14,"p":"Actinobacteria"},{"a":157,"r0":35,"r1":16,"p":"Actinobacteriota"},{"a":183,"r0":17,"r1":11,"p":"Firmicutes"},{"a":231,"r0":44,"r1":12,"p":"Bacteroidota"},{"a":222,"r0":44,"r1":58,"p":"Bacteroidota"},{"a":240,"r0":44,"r1":52,"p":"Bacteroidota"},{"a":263,"r0":46,"r1":12,"p":"Proteobacteria"},{"a":280,"r0":44,"r1":28,"p":"Firmicutes"},{"a":302,"r0":46,"r1":28,"p":"Firmicutes"},{"a":333,"r0":28,"r1":22,"p":"Firmicutes"},{"a":320,"r0":28,"r1":11,"p":"Firmicutes"},{"a":11,"r0":47,"r1":33,"p":"Firmicutes"},{"a":32,"r0":47,"r1":33,"p":"Firmicutes"},{"a":22,"r0":33,"r1":12,"p":"Firmicutes"},{"a":64,"r0":18,"r1":7,"p":"Firmicutes"},{"a":330.2,"r0":12,"r1":55,"p":"Verrucomicrobiota"},{"a":41,"r0":8,"r1":60,"p":"Euryarchaeota"}
]},
"transform":[{"calculate":"datum.a*PI/180","as":"t"},{"calculate":"datum.r0*sin(datum.t)","as":"x"},{"calculate":"datum.r0*cos(datum.t)","as":"y"},{"calculate":"datum.r1*sin(datum.t)","as":"x2"},{"calculate":"datum.r1*cos(datum.t)","as":"y2"}],
"mark":{"type":"rule","strokeWidth":1},
"encoding":{"x":{"field":"x","type":"quantitative","scale":{"domain":[-316,346]},"axis":null},"x2":{"field":"x2"},"y":{"field":"y","type":"quantitative","scale":{"domain":[-359.2,340.8]},"axis":null},"y2":{"field":"y2"},
"color":{"field":"p","type":"nominal","legend":null}}},
{"data":{"values":[
{"a0":93,"a1":121,"r":33,"p":"Proteobacteria"},{"a0":124.9,"a1":128.4,"r":33,"p":"Desulfobacterota"},{"a0":135.5,"a1":142.6,"r":30,"p":"Actinobacteria"},{"a0":149.6,"a1":163.8,"r":35,"p":"Actinobacteriota"},{"a0":167.3,"a1":199,"r":17,"p":"Firmicutes"},{"a0":213.4,"a1":249,"r":44,"p":"Bacteroidota"},{"a0":213.4,"a1":230,"r":58,"p":"Bacteroidota"},{"a0":231,"a1":248.8,"r":52,"p":"Bacteroidota"},{"a0":259.4,"a1":266.5,"r":46,"p":"Proteobacteria"},{"a0":273.5,"a1":287.7,"r":44,"p":"Firmicutes"},{"a0":291.2,"a1":312.5,"r":46,"p":"Firmicutes"},{"a0":316,"a1":351,"r":22,"p":"Firmicutes"},{"a0":273,"a1":345,"r":28,"p":"Firmicutes"},{"a0":2,"a1":19.7,"r":47,"p":"Firmicutes"},{"a0":23.3,"a1":41,"r":47,"p":"Firmicutes"},{"a0":5,"a1":40,"r":33,"p":"Firmicutes"},{"a0":44.5,"a1":83.4,"r":18,"p":"Firmicutes"},{"a0":30,"a1":150,"r":9,"p":"Proteobacteria"},{"a0":200,"a1":300,"r":11,"p":"Proteobacteria"}
]},
"mark":{"type":"arc","filled":false,"strokeWidth":1},
"encoding":{"x":{"datum":0,"type":"quantitative","scale":{"domain":[-316,346]},"axis":null},"y":{"datum":0,"type":"quantitative","scale":{"domain":[-359.2,340.8]},"axis":null},
"theta":{"field":"a0","type":"quantitative","stack":null,"scale":{"domain":[0,360],"range":[0,6.28319]}},"theta2":{"field":"a1"},
"radius":{"field":"r","type":"quantitative","scale":{"domain":[0,400],"range":[0,400]}},"radius2":{"field":"r"},
"color":{"field":"p","type":"nominal","legend":null}}},
{"data":{"name":"taxa"},"transform":[{"filter":"datum.a<180"},{"calculate":"datum.a-90","as":"rot"}],
"mark":{"type":"text","fontSize":7,"align":"left","baseline":"middle"},
"encoding":{"x":{"datum":0,"type":"quantitative","scale":{"domain":[-316,346]},"axis":null},"y":{"datum":0,"type":"quantitative","scale":{"domain":[-359.2,340.8]},"axis":null},
"theta":{"field":"a","type":"quantitative","stack":null,"scale":{"domain":[0,360],"range":[0,6.28319]}},
"radius":{"datum":187,"type":"quantitative","scale":{"domain":[0,400],"range":[0,400]}},
"angle":{"field":"rot","type":"quantitative","scale":null},"text":{"field":"n"},
"color":{"field":"p","type":"nominal","legend":null}}},
{"data":{"name":"taxa"},"transform":[{"filter":"datum.a>=180"},{"calculate":"datum.a+90-360","as":"rot"}],
"mark":{"type":"text","fontSize":7,"align":"right","baseline":"middle"},
"encoding":{"x":{"datum":0,"type":"quantitative","scale":{"domain":[-316,346]},"axis":null},"y":{"datum":0,"type":"quantitative","scale":{"domain":[-359.2,340.8]},"axis":null},
"theta":{"field":"a","type":"quantitative","stack":null,"scale":{"domain":[0,360],"range":[0,6.28319]}},
"radius":{"datum":187,"type":"quantitative","scale":{"domain":[0,400],"range":[0,400]}},
"angle":{"field":"rot","type":"quantitative","scale":null},"text":{"field":"n"},
"color":{"field":"p","type":"nominal","legend":null}}},
{"data":{"values":[{"a0":0,"a1":360,"r":285}]},
"mark":{"type":"arc","filled":false,"stroke":"#dadada","strokeWidth":1},
"encoding":{"x":{"datum":0,"type":"quantitative","scale":{"domain":[-316,346]},"axis":null},"y":{"datum":0,"type":"quantitative","scale":{"domain":[-359.2,340.8]},"axis":null},
"theta":{"field":"a0","type":"quantitative","stack":null,"scale":{"domain":[0,360],"range":[0,6.28319]}},"theta2":{"field":"a1"},
"radius":{"field":"r","type":"quantitative","scale":{"domain":[0,400],"range":[0,400]}},"radius2":{"field":"r"}}},
{"data":{"values":[
{"a":96.7,"Ctrl":26,"MASLD":22.5},{"a":104,"Ctrl":3,"MASLD":4},{"a":111,"Ctrl":5,"MASLD":3},{"a":114.9,"Ctrl":1,"MASLD":2},{"a":119.3,"Ctrl":1,"MASLD":1},{"a":124.8,"Ctrl":2,"MASLD":0.3},{"a":128.6,"Ctrl":1,"MASLD":1},{"a":136,"Ctrl":4,"MASLD":5},{"a":157,"Ctrl":1,"MASLD":2},{"a":168,"Ctrl":2,"MASLD":2},{"a":171.7,"Ctrl":2,"MASLD":2},{"a":174.5,"Ctrl":1,"MASLD":1},{"a":178,"Ctrl":1,"MASLD":1},{"a":182.3,"Ctrl":5,"MASLD":1},{"a":196.5,"Ctrl":3,"MASLD":3},{"a":203.6,"Ctrl":1,"MASLD":1},{"a":207,"Ctrl":1,"MASLD":1},{"a":214,"Ctrl":4,"MASLD":5},{"a":218,"Ctrl":22,"MASLD":23},{"a":221.5,"Ctrl":2,"MASLD":6},{"a":229.4,"Ctrl":32,"MASLD":28},{"a":235.4,"Ctrl":7,"MASLD":7},{"a":246.7,"Ctrl":1,"MASLD":1},{"a":250,"Ctrl":3,"MASLD":5},{"a":253,"Ctrl":3,"MASLD":2},{"a":263,"Ctrl":1,"MASLD":3},{"a":288.7,"Ctrl":6,"MASLD":5},{"a":292.5,"Ctrl":1,"MASLD":1},{"a":296,"Ctrl":5,"MASLD":5},{"a":306.4,"Ctrl":4,"MASLD":2},{"a":310,"Ctrl":5,"MASLD":4},{"a":317,"Ctrl":9,"MASLD":6},{"a":320.5,"Ctrl":1,"MASLD":2},{"a":330.8,"Ctrl":1,"MASLD":0.5},{"a":345.3,"Ctrl":0.5,"MASLD":3},{"a":352,"Ctrl":4,"MASLD":3},{"a":359,"Ctrl":2,"MASLD":1},{"a":2.9,"Ctrl":1,"MASLD":4},{"a":20.4,"Ctrl":1,"MASLD":4},{"a":45,"Ctrl":1,"MASLD":0.5},{"a":55.8,"Ctrl":5,"MASLD":3},{"a":66.4,"Ctrl":7,"MASLD":3},{"a":72.6,"Ctrl":2,"MASLD":0.2},{"a":92,"Ctrl":2,"MASLD":0.2}
]},
"transform":[{"calculate":"datum.a-1.55","as":"a0"},{"calculate":"datum.a+1.55","as":"a1"},{"calculate":"285","as":"base"},{"calculate":"datum.Ctrl","as":"cv"},{"fold":["Ctrl","MASLD"],"as":["group","v"]},{"calculate":"datum.group=='Ctrl' ? datum.base : datum.base+datum.cv","as":"r0"},{"calculate":"datum.r0+datum.v","as":"r1"}],
"mark":{"type":"arc"},
"encoding":{"x":{"datum":0,"type":"quantitative","scale":{"domain":[-316,346]},"axis":null},"y":{"datum":0,"type":"quantitative","scale":{"domain":[-359.2,340.8]},"axis":null},
"theta":{"field":"a0","type":"quantitative","stack":null,"scale":{"domain":[0,360],"range":[0,6.28319]}},"theta2":{"field":"a1"},
"radius":{"field":"r0","type":"quantitative","scale":{"domain":[0,400],"range":[0,400]}},"radius2":{"field":"r1"},
"fill":{"field":"group","type":"nominal","scale":{"domain":["MASLD","Ctrl"],"range":["#f8766d","#08b8bb"]},
"legend":{"orient":"none","legendX":673,"legendY":376,"title":"Group","titleFontSize":9.5,"titleFontWeight":"normal","titleColor":"#111","titlePadding":2,"labelFontSize":15.6,"labelColor":"#111","symbolType":"square","symbolSize":400,"symbolStrokeWidth":0,"rowPadding":1.5,"labelOffset":7}}}},
{"data":{"values":[{"x":-268,"y":345,"t":"F"}]},"mark":{"type":"text","fontSize":47,"align":"left","baseline":"alphabetic","color":"#000"},
"encoding":{"x":{"field":"x","type":"quantitative","scale":{"domain":[-316,346]},"axis":null},"y":{"field":"y","type":"quantitative","scale":{"domain":[-359.2,340.8]},"axis":null},"text":{"field":"t"}}}
]}
],"spacing":0,"bounds":"flush","resolve":{"scale":{"color":"independent","fill":"independent","theta":"independent","radius":"independent"}}}
],
"datasets":{"taxa":[
{"n":"Proteus","p":"Proteobacteria","a":93,"r0":44},{"n":"unidentified_Enterobacteriaceae","p":"Proteobacteria","a":96.5,"r0":44},{"n":"Citrobacter","p":"Proteobacteria","a":100.1,"r0":44},{"n":"Klebsiella","p":"Proteobacteria","a":103.6,"r0":44},{"n":"unidentified_Saccharimonadales","p":"unidentified_Bacteria","a":107.2,"r0":44},{"n":"Succinivibrio","p":"Proteobacteria","a":110.7,"r0":44},{"n":"Haemophilus","p":"Proteobacteria","a":114.2,"r0":44},{"n":"unidentified_Rhodospirillales","p":"Proteobacteria","a":117.8,"r0":44},{"n":"Paracoccus","p":"Proteobacteria","a":121.3,"r0":44},{"n":"Desulfovibrio","p":"Desulfobacterota","a":124.9,"r0":44},
{"n":"Bilophila","p":"Desulfobacterota","a":128.4,"r0":44},{"n":"unidentified_Gastranaerophilales","p":"Cyanobacteria","a":131.9,"r0":40},{"n":"Bifidobacterium","p":"Actinobacteria","a":135.5,"r0":42},{"n":"Corynebacterium","p":"Actinobacteria","a":139,"r0":42},{"n":"Streptomyces","p":"Actinobacteria","a":142.6,"r0":42},{"n":"Pyramidobacter","p":"Synergistota","a":146.1,"r0":40},{"n":"Eggerthella","p":"Actinobacteriota","a":149.6,"r0":46},{"n":"Senegalimassilia","p":"Actinobacteriota","a":153.2,"r0":46},{"n":"Collinsella","p":"Actinobacteriota","a":156.7,"r0":46},{"n":"Olsenella","p":"Actinobacteriota","a":160.3,"r0":46},
{"n":"Atopobium","p":"Actinobacteriota","a":163.8,"r0":46},{"n":"Roseburia","p":"Firmicutes","a":167.3,"r0":28},{"n":"Agathobacter","p":"Firmicutes","a":170.9,"r0":28},{"n":"Coprococcus","p":"Firmicutes","a":174.4,"r0":28},{"n":"Lachnospira","p":"Firmicutes","a":178,"r0":28},{"n":"unidentified_Lachnospiraceae","p":"Firmicutes","a":181.5,"r0":28},{"n":"Hungatella","p":"Firmicutes","a":185,"r0":28},{"n":"Anaerostipes","p":"Firmicutes","a":188.6,"r0":28},{"n":"Fusicatenibacter","p":"Firmicutes","a":192.1,"r0":28},{"n":"Lachnoclostridium","p":"Firmicutes","a":195.7,"r0":28},
{"n":"Dorea","p":"Firmicutes","a":199.2,"r0":28},{"n":"Blautia","p":"Firmicutes","a":202.7,"r0":28},{"n":"Parasutterella","p":"Proteobacteria","a":206.3,"r0":30},{"n":"Slackia","p":"Actinobacteriota","a":209.8,"r0":42},{"n":"Prevotella","p":"Bacteroidota","a":213.4,"r0":70},{"n":"unidentified_Prevotellaceae","p":"Bacteroidota","a":216.9,"r0":70},{"n":"Alloprevotella","p":"Bacteroidota","a":220.4,"r0":70},{"n":"Paraprevotella","p":"Bacteroidota","a":224,"r0":70},{"n":"Bacteroides","p":"Bacteroidota","a":227.5,"r0":70},{"n":"Butyricimonas","p":"Bacteroidota","a":231.1,"r0":64},
{"n":"Parabacteroides","p":"Bacteroidota","a":234.6,"r0":64},{"n":"Coprobacter","p":"Bacteroidota","a":238.1,"r0":64},{"n":"Barnesiella","p":"Bacteroidota","a":241.7,"r0":64},{"n":"Odoribacter","p":"Bacteroidota","a":245.2,"r0":64},{"n":"Alistipes","p":"Bacteroidota","a":248.8,"r0":64},{"n":"Fusobacterium","p":"Fusobacteriota","a":252.3,"r0":60},{"n":"Monoglobus","p":"Firmicutes","a":255.8,"r0":58},{"n":"Comamonas","p":"Proteobacteria","a":259.4,"r0":58},{"n":"Sutterella","p":"Proteobacteria","a":262.9,"r0":58},{"n":"Campylobacter","p":"Campylobacterota","a":266.5,"r0":58},
{"n":"Elusimicrobium","p":"Elusimicrobiota","a":270,"r0":58},{"n":"Flavonifractor","p":"Firmicutes","a":273.5,"r0":55},{"n":"Colidextribacter","p":"Firmicutes","a":277.1,"r0":55},{"n":"Intestinimonas","p":"Firmicutes","a":280.6,"r0":55},{"n":"Oscillibacter","p":"Firmicutes","a":284.2,"r0":55},{"n":"unidentified_Oscillospiraceae","p":"Firmicutes","a":287.7,"r0":55},{"n":"Dialister","p":"Firmicutes","a":291.2,"r0":58},{"n":"Veillonella","p":"Firmicutes","a":294.8,"r0":58},{"n":"Acidaminococcus","p":"Firmicutes","a":298.3,"r0":58},{"n":"Butyricicoccus","p":"Firmicutes","a":301.9,"r0":58},
{"n":"Ruminococcus","p":"Firmicutes","a":305.4,"r0":58},{"n":"unidentified_Clostridia","p":"Firmicutes","a":308.9,"r0":50},{"n":"Fournierella","p":"Firmicutes","a":312.5,"r0":50},{"n":"Faecalibacterium","p":"Firmicutes","a":316,"r0":33},{"n":"Subdoligranulum","p":"Firmicutes","a":319.6,"r0":33},{"n":"unidentified_Clostridiales","p":"Firmicutes","a":323.1,"r0":33},{"n":"Akkermansia","p":"Verrucomicrobiota","a":326.6,"r0":55},{"n":"unidentified_Ruminococcaceae","p":"Firmicutes","a":330.2,"r0":33},{"n":"Anaerofilibacter","p":"Firmicutes","a":333.7,"r0":33},{"n":"Limosilactobacillus","p":"Firmicutes","a":337.3,"r0":33},
{"n":"Weissella","p":"Firmicutes","a":340.8,"r0":33},{"n":"Lactobacillus","p":"Firmicutes","a":344.3,"r0":33},{"n":"Gemella","p":"Firmicutes","a":347.9,"r0":33},{"n":"Streptococcus","p":"Firmicutes","a":351.4,"r0":33},{"n":"Staphylococcus","p":"Firmicutes","a":355,"r0":33},{"n":"Ligilactobacillus","p":"Firmicutes","a":358.5,"r0":33},{"n":"Enterococcus","p":"Firmicutes","a":2,"r0":60},{"n":"Abiotrophia","p":"Firmicutes","a":5.6,"r0":60},{"n":"Granulicatella","p":"Firmicutes","a":9.1,"r0":60},{"n":"Oceanobacillus","p":"Firmicutes","a":12.7,"r0":60},
{"n":"Cerasibacillus","p":"Firmicutes","a":16.2,"r0":60},{"n":"Bacillus","p":"Firmicutes","a":19.7,"r0":60},{"n":"Erysipelatoclostridium","p":"Firmicutes","a":23.3,"r0":60},{"n":"unidentified_Erysipelotrichales","p":"Firmicutes","a":26.8,"r0":60},{"n":"Catenibacterium","p":"Firmicutes","a":30.4,"r0":60},{"n":"unidentified_Erysipelotrichaceae","p":"Firmicutes","a":33.9,"r0":60},{"n":"Holdemanella","p":"Firmicutes","a":37.4,"r0":60},{"n":"Methanobrevibacter","p":"Euryarchaeota","a":41,"r0":60},{"n":"Anaeroplasma","p":"Firmicutes","a":44.5,"r0":30},{"n":"Turicibacter","p":"Firmicutes","a":48.1,"r0":30},
{"n":"Allisonella","p":"Firmicutes","a":51.6,"r0":30},{"n":"Megasphaera","p":"Firmicutes","a":55.1,"r0":30},{"n":"Megamonas","p":"Firmicutes","a":58.7,"r0":30},{"n":"Anaerovibrio","p":"Firmicutes","a":62.2,"r0":30},{"n":"Phascolarctobacterium","p":"Firmicutes","a":65.8,"r0":30},{"n":"Mitsuokella","p":"Firmicutes","a":69.3,"r0":30},{"n":"unidentified_Christensenellaceae","p":"Firmicutes","a":72.8,"r0":30},{"n":"Parvimonas","p":"Firmicutes","a":76.4,"r0":30},{"n":"Peptostreptococcus","p":"Firmicutes","a":79.9,"r0":30},{"n":"Romboutsia","p":"Firmicutes","a":83.4,"r0":30}
]}
}
